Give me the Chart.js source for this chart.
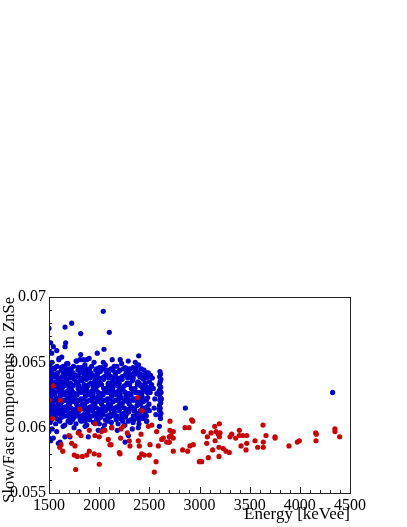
<!DOCTYPE html>
<html>
<head>
<meta charset="utf-8">
<script src="https://cdn.jsdelivr.net/npm/chart.js@4"></script>
<style>
body{margin:0;background:#fff}
canvas{display:block}
</style>
</head>
<body>
<canvas id="c" width="407" height="527"></canvas>
<script>
// energy range and tick labels
var xTicks=[1500,2000,2500,3000,3500,4000,4500];
var yTicks=[0.055,0.06,0.065,0.07];

// red events [energy, slow/fast]
var redEvents=[
[1543,0.0632],[1500,0.0621],[1613,0.0621],[1809,0.0614],[1537,0.0607],[2384,0.0623],[2427,0.0613],
[1958,0.0603],[1902,0.0598],[1792,0.0596],[1819,0.0594],[1699,0.0594],[1958,0.0594],[2001,0.0593],
[2025,0.0597],[2058,0.0598],[2091,0.0591],[2108,0.0587],[1620,0.0587],[1607,0.0585],[1637,0.0582],
[1726,0.0588],[1759,0.0586],[1752,0.0579],[1782,0.0578],[1832,0.0578],[1876,0.0579],[1902,0.0582],
[1951,0.0580],[1998,0.0579],[2001,0.0572],[1766,0.0568],
[2524,0.0602],[2490,0.0601],[2241,0.0601],[2218,0.0599],[2125,0.0600],[2281,0.0596],[2417,0.0595],
[2573,0.0597],[2706,0.0605],[2739,0.0597],[2716,0.0594],[2699,0.0593],[2739,0.0592],[2699,0.0589],
[2856,0.0600],[2895,0.0600],[2639,0.0592],[2623,0.0591],[2118,0.0587],[2214,0.0592],[2300,0.0590],
[2307,0.0586],[2390,0.0590],[2400,0.0586],[2507,0.0587],[2590,0.0586],[2201,0.0581],[2208,0.0580],
[2424,0.0580],[2450,0.0579],[2500,0.0579],[2400,0.0577],[2567,0.0574],[2550,0.0566],[2882,0.0582],
[2905,0.0586],[2922,0.0606],[2932,0.0605],[2938,0.0587],[2998,0.0574],[2832,0.0583],[2673,0.0589],
[2739,0.0582],[2706,0.0598],
[3038,0.0597],[3078,0.0593],[3072,0.0588],[3022,0.0574],[3088,0.0577],[3131,0.0583],[3115,0.0596],
[3152,0.0601],[3155,0.0590],[3164,0.0597],[3188,0.0595],[3198,0.0603],[3204,0.0596],[3198,0.0593],
[3194,0.0585],[3194,0.0578],[3237,0.0584],[3264,0.0582],[3297,0.0581],[3304,0.0593],[3321,0.0595],
[3361,0.0592],[3397,0.0598],[3397,0.0594],[3431,0.0594],[3471,0.0594],[3414,0.0586],[3471,0.0588],
[3464,0.0583],[3553,0.0590],[3580,0.0585],[3633,0.0602],[3636,0.0589],[3636,0.0585],[3663,0.0594],
[3753,0.0593],[3753,0.0592],[3892,0.0586],[3975,0.0589],[3995,0.0590],[4158,0.0596],[4164,0.0595],
[4161,0.0590],[4350,0.0599],[4350,0.0597],[4397,0.0593]
];

// blue events, main blob row by row
var blueEvents=[
[1505,0.0648],[1530,0.0650],[1562,0.0646],[1598,0.0652],[1641,0.0647],[1688,0.0649],[1722,0.0645],[1770,0.0651],
[1812,0.0646],[1858,0.0648],[1905,0.0645],[1949,0.0650],[2003,0.0646],[2061,0.0648],[2118,0.0645],[2176,0.0647],
[2224,0.0649],[2282,0.0645],[2338,0.0646],[2392,0.0648],[2447,0.0644],
[1520,0.0646],[1580,0.0647],[1660,0.0646],[1745,0.0647],[1835,0.0646],[1925,0.0647],[2030,0.0646],[2150,0.0647],
[2260,0.0646],[2370,0.0646],
[1545,0.0645],[1620,0.0646],[1700,0.0644],[1790,0.0646],[1880,0.0644],[1975,0.0645],[2080,0.0644],[2205,0.0644],
[2310,0.0645],[2420,0.0645],
[1512,0.0643],[1551,0.0645],[1587,0.0642],[1623,0.0644],[1667,0.0643],[1703,0.0645],[1741,0.0642],[1789,0.0644],
[1834,0.0643],[1871,0.0645],[1918,0.0642],[1966,0.0644],[2012,0.0643],[2047,0.0645],[2094,0.0642],[2139,0.0644],
[2193,0.0643],[2241,0.0645],[2296,0.0642],[2355,0.0643],[2411,0.0641],[2468,0.0642],[2512,0.0640],
[1528,0.0642],[1570,0.0641],[1645,0.0642],[1718,0.0641],[1810,0.0642],[1890,0.0641],[1990,0.0642],[2070,0.0643],
[2160,0.0642],[2270,0.0642],[2330,0.0641],[2385,0.0643],[2440,0.0640],[2490,0.0642],
[1503,0.0640],[1539,0.0639],[1576,0.0641],[1611,0.0638],[1652,0.0640],[1694,0.0641],[1733,0.0639],[1768,0.0640],
[1807,0.0638],[1849,0.0641],[1893,0.0639],[1938,0.0640],[1981,0.0641],[2029,0.0638],[2072,0.0640],[2118,0.0639],
[2163,0.0641],[2207,0.0638],[2258,0.0640],[2309,0.0639],[2363,0.0641],[2427,0.0638],[2488,0.0639],
[1560,0.0639],[1630,0.0639],[1710,0.0638],[1790,0.0639],[1870,0.0638],[1955,0.0639],[2050,0.0639],[2140,0.0638],
[2230,0.0639],[2320,0.0639],[2405,0.0639],[2470,0.0638],
[1512,0.0638],[1590,0.0638],[1665,0.0638],[1745,0.0638],[1825,0.0638],[1910,0.0638],[2000,0.0638],[2095,0.0638],
[2180,0.0638],[2285,0.0638],[2340,0.0638],[2460,0.0634],
[1518,0.0636],[1557,0.0635],[1594,0.0637],[1634,0.0635],[1676,0.0636],[1715,0.0634],[1752,0.0637],[1791,0.0635],
[1829,0.0636],[1872,0.0637],[1913,0.0634],[1957,0.0636],[1998,0.0635],[2046,0.0637],[2091,0.0634],[2137,0.0636],
[2184,0.0635],[2229,0.0637],[2276,0.0634],[2331,0.0636],[2384,0.0635],[2443,0.0637],[2501,0.0635],
[1525,0.0634],[1605,0.0634],[1690,0.0634],[1770,0.0634],[1850,0.0633],[1930,0.0634],[2015,0.0634],[2110,0.0634],
[2200,0.0634],[2305,0.0634],[2400,0.0634],
[1565,0.0633],[1645,0.0632],[1725,0.0633],[1800,0.0632],[1885,0.0632],[1970,0.0633],[2090,0.0633],[2180,0.0632],
[2275,0.0633],[2380,0.0633],[2450,0.0633],[2510,0.0631],
[1506,0.0632],[1546,0.0633],[1581,0.0631],[1619,0.0632],[1661,0.0633],[1699,0.0631],[1738,0.0632],[1777,0.0633],
[1814,0.0630],[1856,0.0632],[1896,0.0633],[1941,0.0631],[1984,0.0632],[2024,0.0633],[2068,0.0630],[2113,0.0632],
[2159,0.0633],[2204,0.0631],[2251,0.0632],[2302,0.0633],[2357,0.0630],[2412,0.0632],[2471,0.0631],[2523,0.0633],
[1540,0.0630],[1630,0.0630],[1715,0.0630],[1790,0.0630],[1875,0.0630],[1960,0.0630],[2045,0.0630],[2135,0.0630],
[2225,0.0630],[2320,0.0630],[2435,0.0630],[2495,0.0630],
[1522,0.0628],[1563,0.0627],[1601,0.0629],[1642,0.0627],[1683,0.0628],[1724,0.0629],[1761,0.0626],[1801,0.0628],
[1842,0.0629],[1884,0.0627],[1926,0.0628],[1969,0.0629],[2011,0.0626],[2057,0.0628],[2101,0.0629],[2146,0.0627],
[2192,0.0628],[2238,0.0629],[2287,0.0626],[2341,0.0628],[2396,0.0627],[2452,0.0629],[2508,0.0627],
[1545,0.0627],[1625,0.0627],[1700,0.0627],[1740,0.0627],[1820,0.0627],[1905,0.0627],[1990,0.0627],[2080,0.0627],
[2165,0.0627],[2260,0.0627],[2365,0.0627],[2430,0.0627],[2480,0.0627],
[1530,0.0626],[1610,0.0626],[1705,0.0626],[1780,0.0625],[1860,0.0626],[1940,0.0626],[2035,0.0626],[2120,0.0626],
[2210,0.0626],[2300,0.0626],[2410,0.0626],
[1502,0.0624],[1537,0.0625],[1573,0.0623],[1614,0.0624],[1655,0.0625],[1693,0.0623],[1731,0.0624],[1771,0.0625],
[1818,0.0622],[1863,0.0624],[1907,0.0625],[1951,0.0623],[1993,0.0624],[2038,0.0625],[2083,0.0622],[2128,0.0624],
[2174,0.0625],[2218,0.0623],[2266,0.0624],[2318,0.0625],[2371,0.0622],[2426,0.0624],[2484,0.0623],
[1520,0.0622],[1595,0.0622],[1680,0.0622],[1760,0.0622],[1845,0.0622],[1930,0.0622],[2015,0.0622],[2105,0.0622],
[2195,0.0622],[2290,0.0622],[2345,0.0622],[2455,0.0622],
[1570,0.0621],[1650,0.0621],[1730,0.0621],[1810,0.0621],[1900,0.0621],[1985,0.0621],[2070,0.0621],[2160,0.0621],
[2255,0.0621],[2360,0.0621],[2415,0.0621],[2470,0.0621],
[1514,0.0620],[1553,0.0621],[1591,0.0619],[1631,0.0620],[1671,0.0621],[1711,0.0619],[1748,0.0620],[1789,0.0621],
[1836,0.0618],[1879,0.0620],[1921,0.0621],[1962,0.0619],[2006,0.0620],[2051,0.0621],[2096,0.0618],[2141,0.0620],
[2186,0.0621],[2233,0.0619],[2281,0.0620],[2333,0.0621],[2389,0.0619],[2441,0.0620],[2497,0.0618],
[1535,0.0618],[1615,0.0618],[1695,0.0618],[1775,0.0618],[1855,0.0618],[1940,0.0618],[2025,0.0618],[2115,0.0618],
[2205,0.0618],[2300,0.0618],[2410,0.0618],
[1508,0.0616],[1544,0.0615],[1582,0.0617],[1622,0.0615],[1663,0.0616],[1702,0.0617],[1741,0.0614],[1782,0.0616],
[1824,0.0617],[1868,0.0615],[1911,0.0616],[1954,0.0617],[1999,0.0614],[2043,0.0616],[2087,0.0617],[2132,0.0615],
[2178,0.0616],[2224,0.0617],[2272,0.0614],[2322,0.0616],[2377,0.0617],[2433,0.0615],[2479,0.0616],
[1560,0.0615],[1640,0.0614],[1720,0.0615],[1800,0.0615],[1890,0.0615],[1975,0.0615],[2065,0.0615],[2155,0.0615],
[2250,0.0615],[2340,0.0615],[2455,0.0615],
[1525,0.0614],[1600,0.0614],[1685,0.0614],[1765,0.0614],[1850,0.0614],[1935,0.0614],[2020,0.0614],[2110,0.0614],
[2200,0.0614],[2300,0.0614],[2355,0.0614],[2410,0.0613],[2500,0.0613],
[1519,0.0612],[1558,0.0613],[1597,0.0611],[1637,0.0612],[1678,0.0613],[1718,0.0611],[1758,0.0612],[1797,0.0613],
[1846,0.0610],[1889,0.0612],[1933,0.0613],[1976,0.0611],[2019,0.0612],[2064,0.0613],[2109,0.0610],[2153,0.0612],
[2199,0.0613],[2246,0.0611],[2293,0.0612],[2346,0.0613],[2403,0.0610],[2461,0.0612],
[1535,0.0610],[1615,0.0610],[1695,0.0610],[1775,0.0610],[1865,0.0610],[1955,0.0610],[2040,0.0610],[2130,0.0610],
[2225,0.0610],[2270,0.0610],[2380,0.0611],[2440,0.0609],
[1560,0.0610],[1645,0.0609],[1730,0.0609],[1815,0.0609],[1905,0.0609],[1995,0.0609],[2085,0.0609],[2175,0.0609],
[2240,0.0609],[2340,0.0609],[2395,0.0609],[2470,0.0609],
[1504,0.0608],[1541,0.0609],[1579,0.0607],[1626,0.0608],[1668,0.0609],[1707,0.0607],[1751,0.0608],[1793,0.0609],
[1839,0.0607],[1882,0.0608],[1929,0.0609],[1973,0.0607],[2016,0.0608],[2062,0.0606],[2106,0.0608],[2151,0.0609],
[2213,0.0607],[2262,0.0608],[2314,0.0606],[2368,0.0608],[2419,0.0607],
[1525,0.0606],[1600,0.0606],[1690,0.0605],[1735,0.0606],[1810,0.0606],[1860,0.0605],[1905,0.0606],[1990,0.0606],
[2085,0.0605],[2170,0.0606],[2235,0.0605],[2290,0.0605],[2345,0.0606],[2395,0.0606],[2450,0.0607],
[1513,0.0604],[1566,0.0603],[1608,0.0605],[1658,0.0602],[1713,0.0604],[1769,0.0603],[1822,0.0605],[1877,0.0602],
[1944,0.0604],[2002,0.0603],[2053,0.0602],[2122,0.0604],[2189,0.0603],[2256,0.0602],[2338,0.0604],[2397,0.0603],
[2473,0.0605],
// upper spread and outliers
[1503,0.0658],[1543,0.0662],[1517,0.0665],[1666,0.0665],[1660,0.0662],[1527,0.0657],[1577,0.0659],[1627,0.0654],
[1600,0.0653],[1676,0.0649],[1776,0.0651],[1809,0.0652],[1816,0.0656],[1842,0.0652],[1876,0.0652],[1981,0.0657],
[2048,0.0660],[2041,0.0650],[2394,0.0655],[1900,0.0653],[2130,0.0652],[2210,0.0652],[2290,0.0651],[2360,0.0650],
[1500,0.0676],[2041,0.0689],[1726,0.0680],[1660,0.0677],[2101,0.0673],[1816,0.0672],[2859,0.0615],[4327,0.0627],
// column near 2600 keV
[2606,0.0643],[2612,0.0641],[2603,0.0639],[2615,0.0637],[2608,0.0635],[2600,0.0633],[2613,0.0631],[2605,0.0629],
[2617,0.0627],[2602,0.0625],[2610,0.0623],[2606,0.0621],[2614,0.0619],[2601,0.0617],[2609,0.0615],[2604,0.0613],
[2616,0.0611],[2607,0.0609],[2611,0.0607],[2598,0.0628],[2620,0.0622],[2597,0.0614],
[2540,0.0630],[2555,0.0622],[2548,0.0615],[2530,0.0638],[2565,0.0610],[2575,0.0626],
// lower spread
[1500,0.0597],[1577,0.0597],[1543,0.0592],[1709,0.0593],[1610,0.0589],[1892,0.0593],[1991,0.0598],[2125,0.0600],
[1500,0.0592],[1517,0.0590],[1593,0.0588],[1659,0.0593],[1530,0.0599],[1750,0.0600],[1860,0.0601],[2258,0.0589],
[2291,0.0594],[2390,0.0600],[2600,0.0601],[2473,0.0605],[2696,0.0589],[2180,0.0598],[2330,0.0599],[1800,0.0597],
[1640,0.0601],[2040,0.0599]
];

var serif='"Liberation Serif","DejaVu Serif",serif';

function toXY(list){return list.map(function(p){return {x:p[0],y:p[1]};});}

var frameTicks={
  id:'frameTicks',
  afterDraw:function(chart){
    var ctx=chart.ctx,a=chart.chartArea,xs=chart.scales.x,ys=chart.scales.y;
    ctx.save();
    ctx.strokeStyle='#222';
    ctx.lineWidth=1;
    ctx.strokeRect(Math.round(a.left)+0.5,Math.round(a.top)+0.5,Math.round(a.right-a.left),Math.round(a.bottom-a.top));
    ctx.beginPath();
    for(var v=1500;v<=4500;v+=100){
      var px=Math.round(xs.getPixelForValue(v))+0.5;
      var len=(v%500===0)?6:3;
      ctx.moveTo(px,a.bottom);ctx.lineTo(px,a.bottom-len);
    }
    for(var k=0;k<=15;k++){
      var yv=0.055+k*0.001;
      var py=Math.round(ys.getPixelForValue(yv))+0.5;
      var l=(k%5===0)?6:3;
      ctx.moveTo(a.left,py);ctx.lineTo(a.left+l,py);
    }
    ctx.stroke();
    ctx.restore();
  }
};

new Chart(document.getElementById('c').getContext('2d'),{
  type:'scatter',
  data:{
    datasets:[
      {label:'red',data:toXY(redEvents),backgroundColor:'#cc0000',borderWidth:0,pointRadius:2.6},
      {label:'blue',data:toXY(blueEvents),backgroundColor:'#0000cc',borderWidth:0,pointRadius:2.6}
    ]
  },
  options:{
    responsive:false,
    animation:false,
    events:[],
    layout:{padding:{left:0,right:57,top:297,bottom:0}},
    plugins:{legend:{display:false},tooltip:{enabled:false}},
    scales:{
      x:{
        type:'linear',min:1500,max:4500,
        afterBuildTicks:function(s){s.ticks=xTicks.map(function(v){return {value:v};});},
        afterFit:function(s){s.height=34;},
        grid:{display:false,drawTicks:false},
        border:{display:false},
        ticks:{color:'#000',padding:3,maxRotation:0,font:{family:serif,size:16},callback:function(v){return String(v);}},
        title:{display:true,text:'Energy [keVee]',align:'end',color:'#000',font:{family:serif,size:17},padding:{top:0,bottom:2}}
      },
      y:{
        type:'linear',min:0.055,max:0.07,
        afterBuildTicks:function(s){s.ticks=yTicks.map(function(v){return {value:v};});},
        afterFit:function(s){s.width=49;},
        grid:{display:false,drawTicks:false},
        border:{display:false},
        ticks:{color:'#000',padding:3,font:{family:serif,size:16},callback:function(v){return String(+v.toFixed(3));}},
        title:{display:true,text:'Slow/Fast components in ZnSe',align:'end',color:'#000',font:{family:serif,size:16.5},padding:{top:0,bottom:0}}
      }
    }
  },
  plugins:[frameTicks]
});
</script>
</body>
</html>
